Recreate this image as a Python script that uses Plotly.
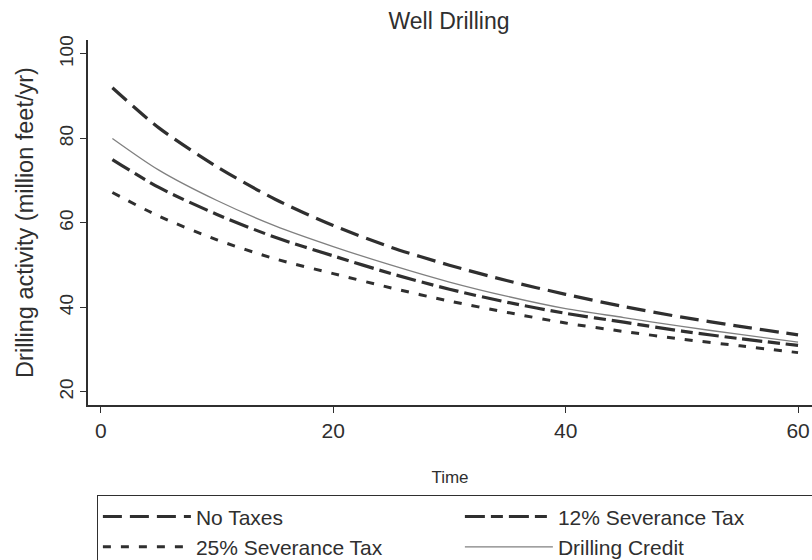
import plotly.graph_objects as go

# Years since start of the simulation
time = [1, 5, 10, 15, 20, 25, 30, 35, 40, 45, 50, 55, 60]

# Drilling activity, million feet per year
no_taxes = [92.0, 82.5, 73.3, 65.6, 59.4, 54.2, 50.0, 46.3, 43.1, 40.2, 37.7, 35.5, 33.5]
sev_12 = [75.0, 68.4, 62.0, 56.6, 52.2, 48.0, 44.3, 41.2, 38.6, 36.5, 34.4, 32.6, 31.0]
sev_25 = [67.2, 61.6, 56.0, 51.5, 48.0, 44.6, 41.5, 38.8, 36.3, 34.3, 32.5, 30.9, 29.3]
credit = [80.0, 72.5, 65.3, 59.3, 54.4, 50.0, 46.0, 42.6, 39.7, 37.6, 35.5, 33.6, 31.8]

x_ticks = [0, 20, 40, 60]
y_ticks = [20, 40, 60, 80, 100]

ink = "#2f2f2f"
font_family = "Liberation Sans, Arial, sans-serif"

series = [
    ("No Taxes", no_taxes, dict(color=ink, width=3.2, dash="19px,8px")),
    ("12% Severance Tax", sev_12, dict(color=ink, width=3.2, dash="20px,6px,12px,6px")),
    ("25% Severance Tax", sev_25, dict(color=ink, width=3.0, dash="8px,10px")),
    ("Drilling Credit", credit, dict(color="#808080", width=1.3)),
]

fig = go.Figure()
for name, values, line in series:
    fig.add_trace(go.Scatter(
        x=time, y=values, mode="lines", name=name,
        line=dict(shape="spline", smoothing=0.8, **line),
    ))

fig.update_layout(
    width=812, height=560,
    margin=dict(l=88, r=0, t=40, b=155, autoexpand=False),
    paper_bgcolor="white", plot_bgcolor="white",
    font=dict(family=font_family, color=ink),
    title=dict(text="Well Drilling", x=0.553, xanchor="center", y=0.963, yanchor="middle",
               font=dict(size=23, color=ink)),
    showlegend=True,
    legend=dict(
        orientation="h", x=0.012, xanchor="left", y=-0.247, yanchor="top",
        bordercolor=ink, borderwidth=1.2, bgcolor="white",
        font=dict(size=21, color=ink),
        itemwidth=88, entrywidth=259, entrywidthmode="pixels",
        traceorder="normal", tracegroupgap=0,
    ),
)

fig.update_xaxes(
    range=[-1.1, 61.2], tickvals=x_ticks, ticktext=[str(v) for v in x_ticks],
    showgrid=False, zeroline=False, showline=True, linecolor=ink, linewidth=1.5,
    ticks="outside", ticklen=6, tickcolor=ink, tickfont=dict(size=21),
    title=dict(text="Time", font=dict(size=17), standoff=30),
)
fig.update_yaxes(
    range=[16.9, 103.3], tickvals=y_ticks, ticktext=[str(v) for v in y_ticks],
    showgrid=False, zeroline=False, showline=True, linecolor=ink, linewidth=1.5,
    ticks="outside", ticklen=6, tickcolor=ink, tickfont=dict(size=19), tickangle=-90,
    title=dict(text="Drilling activity (million feet/yr)", font=dict(size=23.5), standoff=15),
)

fig.write_html("out.html")
